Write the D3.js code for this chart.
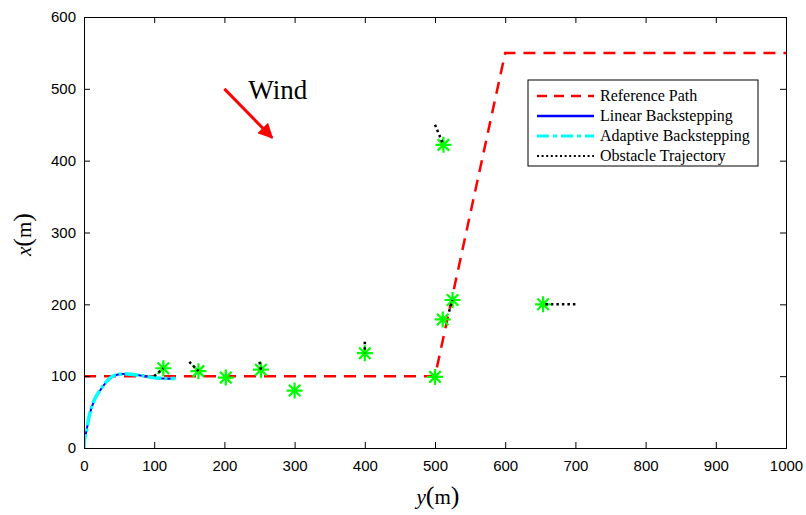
<!DOCTYPE html>
<html>
<head>
<meta charset="utf-8">
<script src="https://cdn.jsdelivr.net/npm/d3@7"></script>
<style>
  body { margin: 0; background: #fff; }
  .tick text { font-family: "Liberation Sans", Arial, sans-serif; font-size: 15px; fill: #000; }
  .serif { font-family: "Liberation Serif", "Times New Roman", serif; }
</style>
</head>
<body>
<svg id="chart" width="806" height="515"></svg>
<script>
// reference path (y horizontal, x vertical)
const refY = [0, 500, 600, 1000];
const refX = [100, 100, 550, 550];

// vehicle trajectories
const linY = [0, 1, 3.8, 7, 11, 17, 25, 32, 39.5, 47, 56, 64, 72.6, 86, 101, 113, 125, 130];
const linX = [0, 12, 25, 42, 57, 71, 83, 92, 99, 102, 103, 102.6, 102, 100, 97.6, 96.6, 96.5, 96.6];
const adpY = [0, 1, 3.8, 7, 11, 17, 25, 32, 39.5, 47, 56, 64, 72.6, 86, 101, 113, 125, 130];
const adpX = [0, 12, 25.5, 42.5, 57.5, 71.5, 83.5, 92.5, 99.3, 102.3, 103.2, 102.8, 102.1, 100.1, 97.8, 96.9, 96.7, 96.8];

// obstacles: final positions and trajectory start points
const obsY = [113, 163, 202, 252, 300, 400, 500, 511, 525, 512, 654];
const obsX = [111, 107, 98, 109, 80, 132, 99, 179, 206, 422, 200];
const obsStartY = [100, 150, 202, 250, 300, 400, 500, 511, 520, 500, 700];
const obsStartX = [100, 120, 98, 120, 80, 148, 99, 179, 190, 450, 200];

// wind arrow (data coords)
const windFrom = [200, 500];
const windTo = [268, 432];
const windLabel = [234, 486];

const xTicks = d3.range(0, 1001, 100);
const yTicks = d3.range(0, 601, 100);

const legendNames = ["Reference Path", "Linear Backstepping", "Adaptive Backstepping", "Obstacle Trajectory"];

const width = 806, height = 515;
const margin = { top: 17, right: 20, bottom: 67, left: 84 };

const svg = d3.select("#chart");

const x = d3.scaleLinear().domain([0, 1000]).range([margin.left, width - margin.right]);
const y = d3.scaleLinear().domain([0, 600]).range([height - margin.bottom, margin.top]);

const defs = svg.append("defs");
defs.append("clipPath").attr("id", "clip")
  .append("rect")
  .attr("x", margin.left).attr("y", margin.top)
  .attr("width", width - margin.left - margin.right)
  .attr("height", height - margin.top - margin.bottom);
defs.append("marker")
  .attr("id", "arrowHead")
  .attr("viewBox", "0 0 10 10")
  .attr("refX", 9).attr("refY", 5)
  .attr("markerWidth", 6).attr("markerHeight", 5)
  .attr("orient", "auto")
  .attr("markerUnits", "strokeWidth")
  .append("path").attr("d", "M0,0 L10,5 L0,10 Z").attr("fill", "#ff0000");

const line = d3.line().x(d => x(d[0])).y(d => y(d[1]));
const zip = (a, b) => a.map((v, i) => [v, b[i]]);

const plot = svg.append("g").attr("clip-path", "url(#clip)");

// reference path
plot.append("path")
  .attr("d", line(zip(refY, refX)))
  .attr("fill", "none")
  .attr("stroke", "#ff0000")
  .attr("stroke-width", 2.5)
  .attr("stroke-dasharray", "12,8");

// linear & adaptive backstepping
const curve = d3.line().curve(d3.curveCatmullRom).x(d => x(d[0])).y(d => y(d[1]));
plot.append("path")
  .attr("d", curve(zip(linY, linX)))
  .attr("fill", "none").attr("stroke", "#0000ff").attr("stroke-width", 2);
plot.append("path")
  .attr("d", curve(zip(adpY, adpX)))
  .attr("fill", "none").attr("stroke", "#00ffff").attr("stroke-width", 3.5)
  .attr("stroke-dasharray", "14,3,3,3");

// obstacles (asterisk markers)
const r = 8;
const star = `M0,${-r}V${r}M${-r},0H${r}M${-r * 0.72},${-r * 0.72}L${r * 0.72},${r * 0.72}M${-r * 0.72},${r * 0.72}L${r * 0.72},${-r * 0.72}`;
plot.selectAll(".obs")
  .data(zip(obsY, obsX))
  .join("path")
  .attr("class", "obs")
  .attr("transform", d => `translate(${x(d[0])},${y(d[1])})`)
  .attr("d", star)
  .attr("fill", "none")
  .attr("stroke", "#00ff00")
  .attr("stroke-width", 2.2);

// obstacle trajectories
obsY.forEach((v, i) => {
  plot.append("path")
    .attr("d", line([[obsStartY[i], obsStartX[i]], [v, obsX[i]]]))
    .attr("fill", "none")
    .attr("stroke", "#000")
    .attr("stroke-width", 2.5)
    .attr("stroke-dasharray", "2.5,3");
});

// axes
const tickLen = 6;
svg.append("g")
  .attr("transform", `translate(0,${height - margin.bottom})`)
  .call(d3.axisBottom(x).tickValues(xTicks).tickSize(-tickLen).tickPadding(12).tickFormat(d3.format("d")))
  .call(g => g.select(".domain").attr("stroke", "#000"))
  .call(g => g.selectAll(".tick line").attr("stroke", "#000"));
svg.append("g")
  .attr("transform", `translate(${margin.left},0)`)
  .call(d3.axisLeft(y).tickValues(yTicks).tickSize(-tickLen).tickPadding(8).tickFormat(d3.format("d")))
  .call(g => g.select(".domain").attr("stroke", "#000"))
  .call(g => g.selectAll(".tick line").attr("stroke", "#000"));
svg.append("g")
  .attr("transform", `translate(0,${margin.top})`)
  .call(d3.axisTop(x).tickValues(xTicks).tickSize(-tickLen).tickFormat(""))
  .call(g => g.select(".domain").attr("stroke", "#000"));
svg.append("g")
  .attr("transform", `translate(${width - margin.right},0)`)
  .call(d3.axisRight(y).tickValues(yTicks).tickSize(-tickLen).tickFormat(""))
  .call(g => g.select(".domain").attr("stroke", "#000"));

// axis labels
const xl = svg.append("text").attr("class", "serif")
  .attr("x", (margin.left + width - margin.right) / 2 + 3).attr("y", 504)
  .attr("text-anchor", "middle").attr("font-size", 21);
xl.append("tspan").attr("font-style", "italic").text("y");
xl.append("tspan").attr("font-size", 26).text("(");
xl.append("tspan").text("m");
xl.append("tspan").attr("font-size", 26).text(")");

const yl = svg.append("text").attr("class", "serif")
  .attr("transform", `translate(31,${(margin.top + height - margin.bottom) / 2 + 2}) rotate(-90)`)
  .attr("text-anchor", "middle").attr("font-size", 21);
yl.append("tspan").attr("font-style", "italic").text("x");
yl.append("tspan").attr("font-size", 26).text("(");
yl.append("tspan").text("m");
yl.append("tspan").attr("font-size", 26).text(")");

// wind
svg.append("line")
  .attr("x1", x(windFrom[0])).attr("y1", y(windFrom[1]))
  .attr("x2", x(windTo[0])).attr("y2", y(windTo[1]))
  .attr("stroke", "#ff0000").attr("stroke-width", 3)
  .attr("marker-end", "url(#arrowHead)");
svg.append("text").attr("class", "serif")
  .attr("x", x(windLabel[0])).attr("y", y(windLabel[1]))
  .attr("font-size", 27).attr("fill", "#000")
  .text("Wind");

// legend
const lg = svg.append("g").attr("transform", "translate(528,80)");
lg.append("rect").attr("width", 230).attr("height", 86)
  .attr("fill", "#fff").attr("stroke", "#000").attr("stroke-width", 1);
const legendStyles = [
  { stroke: "#ff0000", width: 2.5, dash: "10,7" },
  { stroke: "#0000ff", width: 2.5, dash: null },
  { stroke: "#00ffff", width: 3, dash: "12,4,4,4" },
  { stroke: "#000", width: 2.2, dash: "2,2.6" }
];
legendNames.forEach((name, i) => {
  const ly = 16 + i * 20;
  lg.append("line")
    .attr("x1", 9).attr("x2", 66).attr("y1", ly).attr("y2", ly)
    .attr("stroke", legendStyles[i].stroke)
    .attr("stroke-width", legendStyles[i].width)
    .attr("stroke-dasharray", legendStyles[i].dash);
  lg.append("text").attr("class", "serif")
    .attr("x", 72).attr("y", ly + 5)
    .attr("font-size", 16).attr("fill", "#000")
    .text(name);
});
</script>
</body>
</html>
